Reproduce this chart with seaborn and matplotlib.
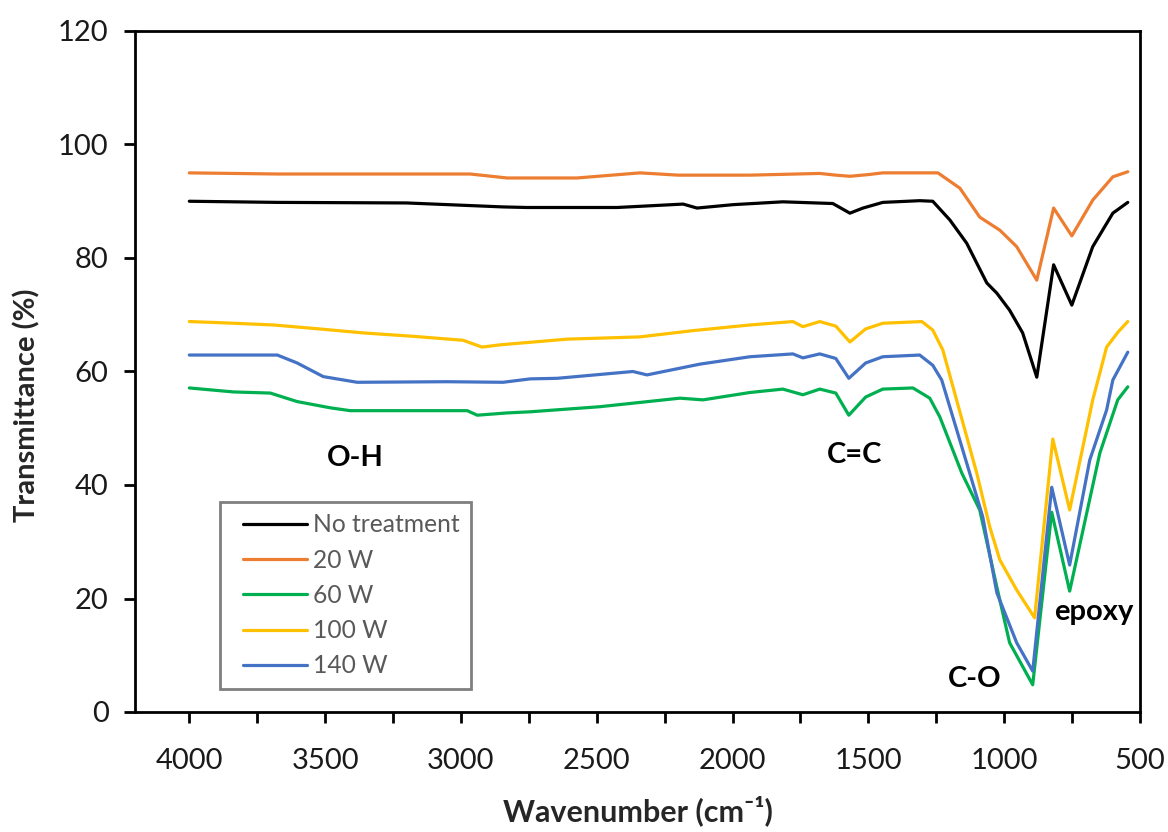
import matplotlib
matplotlib.use("Agg")
import matplotlib.pyplot as plt
import seaborn as sns
import pandas as pd
from matplotlib.ticker import MultipleLocator
from matplotlib.lines import Line2D
from matplotlib.legend_handler import HandlerLine2D

# ---------------- data ----------------
series_names = ["No treatment", "20 W", "60 W", "100 W", "140 W"]
series_colors = ["#000000", "#ED7D31", "#00B050", "#FFC000", "#4472C4"]

wn_none = [4000, 3676, 3200, 2845, 2757, 2425, 2182, 2131, 1998, 1815, 1631, 1568,
           1520, 1447, 1311, 1263, 1200, 1138, 1064, 1027, 980, 932, 880, 818, 751,
           674, 600, 545]
t_none = [90.0, 89.8, 89.7, 89.0, 88.9, 88.9, 89.5, 88.8, 89.4, 89.9, 89.6, 87.9,
          88.8, 89.8, 90.1, 90.0, 86.7, 82.6, 75.6, 73.8, 70.8, 66.8, 59.0, 78.8, 71.7,
          82.0, 87.9, 89.8]

wn_20 = [4000, 3676, 2966, 2830, 2573, 2341, 2200, 1936, 1679, 1620, 1568, 1500,
         1447, 1311, 1244, 1163, 1090, 1016, 954, 880, 818, 751, 674, 600, 545]
t_20 = [95.0, 94.8, 94.8, 94.1, 94.1, 95.0, 94.6, 94.6, 94.9, 94.6, 94.4, 94.7,
        95.0, 95.0, 95.0, 92.3, 87.2, 84.9, 82.0, 76.1, 88.8, 83.9, 90.2, 94.3, 95.2]

wn_60 = [4000, 3838, 3702, 3603, 3481, 3408, 2977, 2940, 2830, 2745, 2488, 2194,
         2109, 1936, 1815, 1741, 1679, 1620, 1572, 1510, 1447, 1336, 1274, 1237,
         1156, 1090, 1027, 980, 895, 825, 759, 648, 582, 545]
t_60 = [57.1, 56.4, 56.2, 54.7, 53.6, 53.1, 53.1, 52.3, 52.7, 52.9, 53.8, 55.3,
        55.0, 56.3, 56.9, 55.9, 56.9, 56.2, 52.3, 55.5, 56.9, 57.1, 55.3, 52.0,
        42.1, 35.6, 22.0, 12.2, 4.8, 35.2, 21.3, 45.6, 55.0, 57.3]

wn_100 = [4000, 3886, 3690, 3544, 3360, 3176, 2992, 2922, 2856, 2609, 2341, 2146,
          1936, 1778, 1741, 1679, 1620, 1568, 1510, 1447, 1303, 1263, 1226, 1101,
          1053, 1016, 954, 888, 821, 759, 674, 648, 623, 580, 545]
t_100 = [68.8, 68.6, 68.2, 67.6, 66.8, 66.2, 65.5, 64.3, 64.7, 65.7, 66.1, 67.2,
         68.2, 68.8, 67.9, 68.8, 68.0, 65.2, 67.5, 68.5, 68.8, 67.3, 63.8, 42.1,
         32.6, 26.8, 21.5, 16.6, 48.1, 35.6, 55.0, 59.7, 64.3, 67.0, 68.8]

wn_140 = [4000, 3676, 3603, 3507, 3382, 3051, 2845, 2745, 2646, 2367, 2315, 2120,
          1936, 1778, 1741, 1679, 1620, 1572, 1510, 1447, 1311, 1263, 1230, 1127,
          1079, 1027, 954, 895, 825, 759, 685, 623, 600, 545]
t_140 = [62.9, 62.9, 61.5, 59.1, 58.1, 58.2, 58.1, 58.7, 58.8, 60.0, 59.4, 61.3,
         62.6, 63.1, 62.4, 63.1, 62.3, 58.8, 61.5, 62.6, 62.9, 61.1, 58.5, 42.1,
         34.4, 21.0, 12.2, 7.2, 39.6, 25.9, 44.4, 53.2, 58.5, 63.4]

x_ticks = [4000, 3500, 3000, 2500, 2000, 1500, 1000, 500]
y_ticks = [0, 20, 40, 60, 80, 100, 120]

annotations = [("O-H", 3389, 44.8), ("C=C", 1550, 45.3),
               ("C-O", 1108, 5.8), ("epoxy", 670, 17.6)]

# ---------------- build table ----------------
frames = []
for name, wn, t in zip(series_names,
                       [wn_none, wn_20, wn_60, wn_100, wn_140],
                       [t_none, t_20, t_60, t_100, t_140]):
    frames.append(pd.DataFrame({"wn": wn, "T": t, "series": name}))
df = pd.concat(frames, ignore_index=True)

# ---------------- style ----------------
sns.set_theme(style="ticks")
plt.rcParams["font.family"] = ["Lato", "DejaVu Sans"]

fig = plt.figure(figsize=(11.68, 8.32), dpi=100)
ax = fig.add_axes([135 / 1168, 1 - 712 / 832, (1140 - 135) / 1168, (712 - 31) / 832])

sns.lineplot(data=df, x="wn", y="T", hue="series", hue_order=series_names,
             palette=dict(zip(series_names, series_colors)), sort=False,
             estimator=None, linewidth=2.3, ax=ax)

ax.set_xlim(4200, 500)
ax.set_ylim(0, 120)
ax.set_xticks(x_ticks)
ax.set_xticklabels([str(v) for v in x_ticks])
ax.xaxis.set_minor_locator(MultipleLocator(250))
ax.set_yticks(y_ticks)
ax.set_yticklabels([str(v) for v in y_ticks])

for side in ["left", "bottom", "top", "right"]:
    ax.spines[side].set_visible(True)
    ax.spines[side].set_linewidth(2)
    ax.spines[side].set_color("black")

ax.tick_params(axis="both", which="both", direction="out", length=8, width=2,
               color="black", labelsize=21, labelcolor="#1a1a1a")
ax.tick_params(axis="x", which="both", top=False, pad=18)
ax.tick_params(axis="y", right=False, pad=11)

ax.set_xlabel("Wavenumber (cm⁻¹)", fontsize=22, fontweight="bold",
              family=["Lato", "DejaVu Sans"])
ax.set_ylabel("Transmittance (%)", fontsize=21, fontweight="bold")
ax.xaxis.set_label_coords(0.5, -0.122)
ax.yaxis.set_label_coords(-0.0945, 0.451)

for txt, xx, yy in annotations:
    ax.text(xx, yy, txt, fontsize=21, fontweight="bold", ha="center", va="center",
            color="black")

leg = ax.legend(loc="upper left", bbox_to_anchor=(0.0846, 0.308), fontsize=17.7,
                frameon=True, fancybox=False, framealpha=1, edgecolor="#7f7f7f",
                handlelength=3.1, handletextpad=0.25, labelspacing=0.5,
                borderpad=0.45, borderaxespad=0,
                handler_map={Line2D: HandlerLine2D(xpad=0.49)})
leg.get_frame().set_linewidth(2)
for t in leg.get_texts():
    t.set_color("#595959")
for h in leg.get_lines():
    h.set_linewidth(2.3)

fig.savefig("out.png", dpi=100)
